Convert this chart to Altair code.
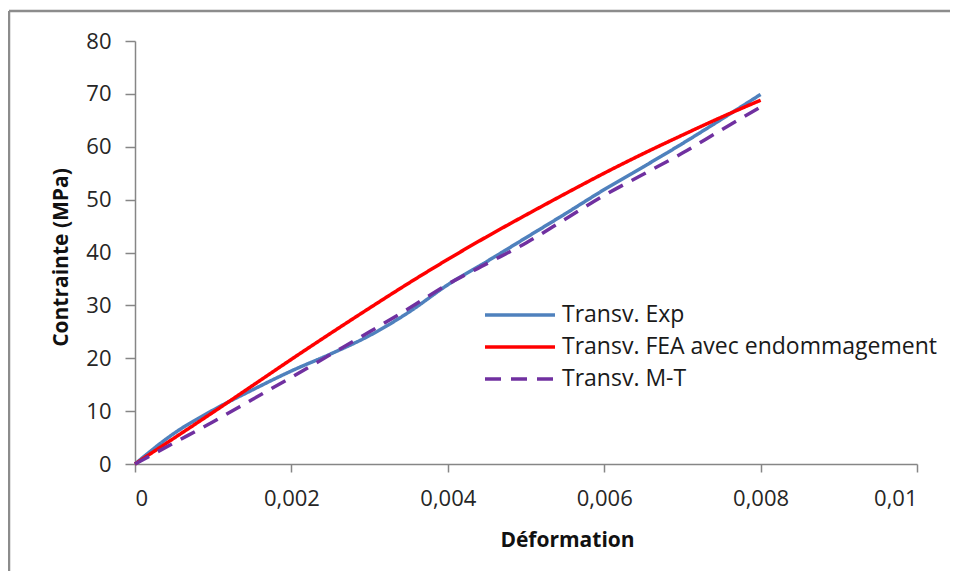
import altair as alt
import pandas as pd

# Strain values (Déformation)
strain = [0.0, 0.0005, 0.001, 0.0015, 0.002, 0.0025, 0.003, 0.0035, 0.004,
          0.0045, 0.005, 0.0055, 0.006, 0.0065, 0.007, 0.0075, 0.008]

# Stress values (Contrainte, MPa)
exp_stress = [0.0, 5.8, 10.2, 14.0, 17.6, 20.8, 24.3, 28.7, 33.9,
              38.3, 42.8, 47.3, 51.9, 56.2, 60.6, 65.2, 69.9]
fea_stress = [0.0, 4.9, 9.8, 14.8, 19.8, 24.7, 29.5, 34.2, 38.7,
              43.0, 47.1, 51.1, 55.0, 58.7, 62.2, 65.6, 68.8]
mt_stress = [0.0, 4.0, 8.0, 12.2, 16.4, 20.7, 25.0, 29.4, 34.0,
             37.9, 41.8, 46.3, 50.8, 54.8, 58.8, 63.2, 67.5]

series_names = ["Transv. Exp", "Transv. FEA avec endommagement", "Transv. M-T"]
series_colors = ["#4F81BD", "#FF0000", "#7030A0"]
series_dashes = [[1, 0], [1, 0], [16, 10]]

x_ticks = [0, 0.002, 0.004, 0.006, 0.008, 0.01]
y_ticks = [0, 10, 20, 30, 40, 50, 60, 70, 80]

rows = []
for name, vals in zip(series_names, [exp_stress, fea_stress, mt_stress]):
    for i, (s, v) in enumerate(zip(strain, vals)):
        rows.append({"strain": s, "stress": v, "series": name, "order": i})
df = pd.DataFrame(rows)

W, H = 782, 423

legend_opts = dict(title=None, orient="none",
                   legendX=348, legendY=258,
                   symbolType="stroke", symbolSize=4900,
                   symbolStrokeWidth=3.5, clipHeight=32,
                   rowPadding=0, labelOffset=5,
                   labelFont="Open Sans", labelFontSize=23,
                   labelColor="#1a1a1a", labelLimit=500,
                   padding=0)

lines = alt.Chart(df).mark_line(
    strokeWidth=3.5, interpolate="monotone", strokeCap="butt"
).encode(
    x=alt.X("strain:Q",
            scale=alt.Scale(domain=[0, 0.01], nice=False, zero=False),
            axis=alt.Axis(values=x_ticks, title="Déformation",
                          labelExpr="replace(datum.value + '', '.', ',')",
                          tickSize=8, labelPadding=16,
                          titleX=432, titleY=76, titleAlign="center",
                          titleBaseline="middle", titleAnchor="start")),
    y=alt.Y("stress:Q",
            scale=alt.Scale(domain=[0, 80], nice=False),
            axis=alt.Axis(values=y_ticks, title="Contrainte (MPa)",
                          tickSize=10, labelPadding=14,
                          titleX=-74, titleY=216, titleAngle=-90,
                          titleAlign="center", titleBaseline="middle",
                          titleAnchor="start")),
    color=alt.Color("series:N",
                    scale=alt.Scale(domain=series_names, range=series_colors),
                    legend=alt.Legend(**legend_opts)),
    strokeDash=alt.StrokeDash("series:N",
                              scale=alt.Scale(domain=series_names, range=series_dashes),
                              legend=alt.Legend(**legend_opts)),
    order="order:Q",
)

frame = alt.Data(values=[{"a": 1}])
border_top = alt.Chart(frame).mark_rule(stroke="#8c8c8c", strokeWidth=2.5).encode(
    x=alt.value(-126), x2=alt.value(815), y=alt.value(-30),
)
border_left = alt.Chart(frame).mark_rule(stroke="#8c8c8c", strokeWidth=2.5).encode(
    x=alt.value(-126), y=alt.value(-30), y2=alt.value(530),
)

chart = alt.layer(border_top, border_left, lines).properties(
    width=W, height=H,
    autosize="none",
    padding={"left": 127, "top": 33, "right": 33, "bottom": 108},
).configure_view(stroke=None).configure_axis(
    grid=False,
    domainColor="#868686", domainWidth=1.5,
    tickColor="#868686", tickWidth=1.5,
    labelFont="Open Sans", labelFontSize=22, labelColor="#262626",
    titleFont="Open Sans", titleFontSize=21, titleFontWeight="bold",
    titleColor="#111111",
)

chart.save("out.html", embed_options={"renderer": "svg", "actions": False})
